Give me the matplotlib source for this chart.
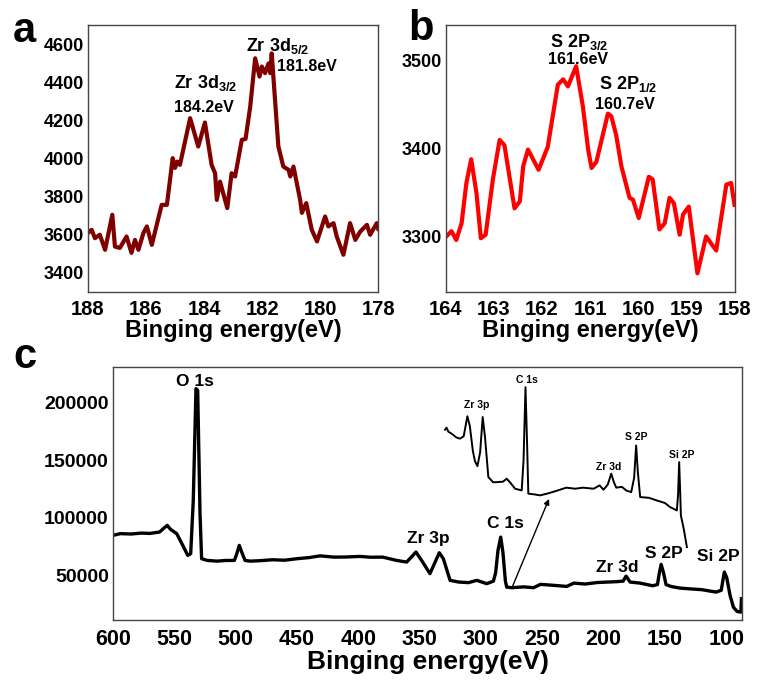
import matplotlib
matplotlib.use('Agg')
import matplotlib.pyplot as plt

plt.rcParams['font.family'] = ['Liberation Sans', 'DejaVu Sans']
plt.rcParams['font.weight'] = 'bold'
plt.rcParams['mathtext.fontset'] = 'custom'
plt.rcParams['mathtext.bf'] = 'Liberation Sans:bold'
plt.rcParams['mathtext.rm'] = 'Liberation Sans:bold'

# ---- panel a: Zr 3d ----
zr_e = [188.0, 187.87, 187.76, 187.59, 187.41, 187.16, 187.07, 186.9, 186.67, 186.5,
        186.38, 186.26, 186.09, 185.97, 185.8, 185.46, 185.28, 185.08, 185.0, 184.92,
        184.83, 184.48, 184.2, 183.97, 183.74, 183.62, 183.56, 183.45, 183.2, 183.05,
        182.93, 182.7, 182.57, 182.41, 182.24, 182.09, 182.01, 181.9, 181.78, 181.72,
        181.67, 181.44, 181.27, 181.09, 181.03, 180.92, 180.69, 180.63, 180.48, 180.29,
        180.11, 179.83, 179.72, 179.54, 179.43, 179.2, 178.97, 178.79, 178.62, 178.39,
        178.28, 178.05, 178.0]
zr_i = [3609, 3625, 3581, 3599, 3520, 3704, 3537, 3530, 3590, 3504,
        3572, 3520, 3608, 3643, 3546, 3756, 3756, 4001, 3950, 3983,
        3966, 4211, 4062, 4188, 3966, 3922, 3782, 3878, 3739, 3922,
        3905, 4097, 4102, 4271, 4525, 4429, 4482, 4447, 4498, 4447,
        4551, 4062, 3957, 3940, 3905, 3957, 3782, 3714, 3765, 3625,
        3564, 3695, 3643, 3660, 3590, 3494, 3660, 3572, 3616, 3651,
        3599, 3660, 3630]

# ---- panel b: S 2p ----
s_e = [163.99, 163.88, 163.78, 163.67, 163.57, 163.47, 163.36, 163.27, 163.17, 163.02,
       162.88, 162.78, 162.57, 162.46, 162.39, 162.29, 162.07, 161.88, 161.67, 161.56,
       161.46, 161.29, 161.15, 161.04, 160.97, 160.87, 160.63, 160.56, 160.46, 160.35,
       160.18, 160.11, 159.99, 159.78, 159.7, 159.56, 159.45, 159.35, 159.26, 159.14,
       159.07, 158.95, 158.77, 158.59, 158.38, 158.17, 158.07, 158.0]
s_i = [3300, 3306, 3296, 3315, 3361, 3388, 3349, 3298, 3302, 3365,
       3410, 3404, 3332, 3340, 3380, 3399, 3376, 3402, 3473, 3479,
       3471, 3494, 3448, 3399, 3378, 3385, 3440, 3437, 3416, 3380,
       3344, 3342, 3321, 3368, 3365, 3308, 3315, 3344, 3338, 3302,
       3325, 3334, 3258, 3300, 3284, 3359, 3361, 3336]

# ---- panel c: survey ----
sv_e = [600, 594, 585, 577, 570, 562, 558, 555.7, 553, 548,
        543, 539, 536.6, 534.5, 532.3, 530.9, 529, 527.7, 523, 515,
        508, 501, 499, 497, 495, 492.3, 488, 480, 470, 460,
        450, 440, 431, 420, 410, 398.5, 390, 380, 368.6, 360.5,
        352.9, 348.3, 341.5, 333.9, 330.6, 325.1, 318, 310, 303.4, 295.2,
        289.8, 288, 286, 283.8, 282, 280, 278.9, 274.8, 265, 257,
        251.4, 240, 230, 224.2, 215, 205, 197, 190, 184, 181.6,
        178.3, 170.2, 160, 156, 154.5, 153, 151, 149, 145, 138,
        130.9, 120, 108.3, 104, 101.5, 99.5, 96.8, 94.1, 91, 88, 87.5]
sv_i = [84800, 86300, 86000, 86800, 86500, 87700, 91500, 93500, 90000, 86300,
        76000, 67400, 68900, 115200, 212400, 210900, 103600, 64500, 63000, 62400,
        63000, 63000, 68900, 76100, 70300, 63000, 62400, 62800, 63600, 63200,
        64500, 65500, 67000, 65900, 66000, 66500, 65800, 65900, 63000, 61600,
        70300, 63000, 51500, 69700, 64500, 45700, 44200, 43700, 45700, 42800,
        45000, 52000, 72000, 83300, 70000, 45000, 39800, 39300, 40000, 39300,
        42200, 41300, 40400, 43300, 42500, 43800, 44200, 44500, 45000, 49400,
        44200, 43300, 41000, 42000, 52000, 59600, 52000, 42000, 40400, 39000,
        38400, 37600, 35500, 37000, 52900, 48000, 32600, 22400, 18600, 18100, 29700]

# enlarged copy drawn above the survey
ins_e = [329.2, 328, 326.5, 323.8, 320, 317, 314, 311, 309, 306.5,
         304.8, 302.8, 300.6, 298.5, 296.6, 293.9, 290, 287, 282, 278.9,
         275.5, 272.1, 266.7, 265.2, 263.6, 262.2, 261.3, 256, 251.8, 246,
         240, 230.3, 223, 216.8, 208, 203.2, 200, 196.5, 193.7, 191.5,
         189.6, 185, 181.5, 177.4, 175, 173.4, 172, 170.1, 163, 156.6,
         150, 145.7, 140.2, 139.2, 138.3, 137.4, 136.9, 134.5, 132]
ins_i = [176700, 178500, 175000, 173200, 170000, 168900, 171000, 188400, 180000, 158000,
         149300, 145000, 157000, 187700, 170000, 135500, 131000, 131100, 131500, 134100,
         130000, 125400, 123900, 150000, 213700, 160000, 121100, 120400, 119600, 121100,
         123000, 126300, 125400, 126300, 125400, 128300, 124500, 129000, 138500, 131000,
         126300, 127000, 123900, 122400, 135000, 163000, 140000, 118100, 117500, 115200,
         113000, 109400, 106500, 120000, 148500, 120000, 102200, 90000, 74600]

big_labels = ['O 1s', 'Zr 3p', 'C 1s', 'Zr 3d', 'S 2P', 'Si 2P']
big_pos = [(533, 219000), (343, 82000), (280, 95000), (189, 57000), (151, 69000), (106, 66000)]
small_labels = ['Zr 3p', 'C 1s', 'Zr 3d', 'S 2P', 'Si 2P']
small_pos = [(303.4, 198000), (262.1, 219600), (196, 144200), (172.9, 170300), (136.1, 154400)]

fig = plt.figure(figsize=(7.58, 6.93), dpi=100)


def style(ax, ysize, xsize):
    for s in ax.spines.values():
        s.set_color('#444444')
        s.set_linewidth(1.0)
    ax.tick_params(length=0)
    ax.tick_params(axis='y', labelsize=ysize, pad=3)
    ax.tick_params(axis='x', labelsize=xsize, pad=6)
    for t in ax.get_xticklabels() + ax.get_yticklabels():
        t.set_fontweight('bold')


# a
ax1 = fig.add_axes([0.116, 0.579, 0.383, 0.385])
ax1.plot(zr_e, zr_i, color='#800000', lw=3)
ax1.set_xlim(188, 178)
ax1.set_ylim(3300, 4700)
ax1.set_xticks([188, 186, 184, 182, 180, 178])
ax1.set_yticks([3400, 3600, 3800, 4000, 4200, 4400, 4600])
style(ax1, 13, 14.5)
ax1.set_xlabel('Binging energy(eV)', fontsize=17, fontweight='bold', labelpad=0)
ax1.text(183.93, 4396, r'Zr 3d$_{\mathbf{3/2}}$', fontsize=13, ha='center', va='center')
ax1.text(184.0, 4265, '184.2eV', fontsize=11.5, ha='center', va='center')
ax1.text(181.48, 4590, r'Zr 3d$_{\mathbf{5/2}}$', fontsize=13, ha='center', va='center')
ax1.text(180.45, 4480, '181.8eV', fontsize=11.5, ha='center', va='center')

# b
ax2 = fig.add_axes([0.588, 0.579, 0.381, 0.385])
ax2.plot(s_e, s_i, color='#ff0000', lw=3)
ax2.set_xlim(164, 158)
ax2.set_ylim(3237, 3541)
ax2.set_xticks([164, 163, 162, 161, 160, 159, 158])
ax2.set_yticks([3300, 3400, 3500])
style(ax2, 13, 14.5)
ax2.set_xlabel('Binging energy(eV)', fontsize=17, fontweight='bold', labelpad=0)
ax2.text(161.22, 3522, r'S 2P$_{\mathbf{3/2}}$', fontsize=13, ha='center', va='center')
ax2.text(161.26, 3502, '161.6eV', fontsize=11.5, ha='center', va='center')
ax2.text(160.22, 3474, r'S 2P$_{\mathbf{1/2}}$', fontsize=13, ha='center', va='center')
ax2.text(160.28, 3450, '160.7eV', fontsize=11.5, ha='center', va='center')

# c
ax3 = fig.add_axes([0.149, 0.105, 0.830, 0.365])
ax3.plot(sv_e, sv_i, color='black', lw=2.4)
ax3.plot(ins_e, ins_i, color='black', lw=1.4)
ax3.annotate('', xy=(243.6, 118700), xytext=(275, 38400),
             arrowprops=dict(arrowstyle='-|>', color='black', lw=1, mutation_scale=8))
ax3.set_xlim(600, 87)
ax3.set_ylim(11000, 231000)
ax3.set_xticks(list(range(600, 99, -50)))
ax3.set_yticks([50000, 100000, 150000, 200000])
style(ax3, 14, 15.5)
ax3.set_xlabel('Binging energy(eV)', fontsize=19, fontweight='bold', labelpad=0)
for lab, (x, y) in zip(big_labels, big_pos):
    ax3.text(x, y, lab, fontsize=12.5, ha='center', va='center')
for lab, (x, y) in zip(small_labels, small_pos):
    ax3.text(x, y, lab, fontsize=7.5, ha='center', va='center')

fig.text(0.032, 0.955, 'a', fontsize=30, fontweight='bold', ha='center', va='center')
fig.text(0.556, 0.958, 'b', fontsize=30, fontweight='bold', ha='center', va='center')
fig.text(0.033, 0.485, 'c', fontsize=30, fontweight='bold', ha='center', va='center')

fig.savefig('out.png', dpi=100)
